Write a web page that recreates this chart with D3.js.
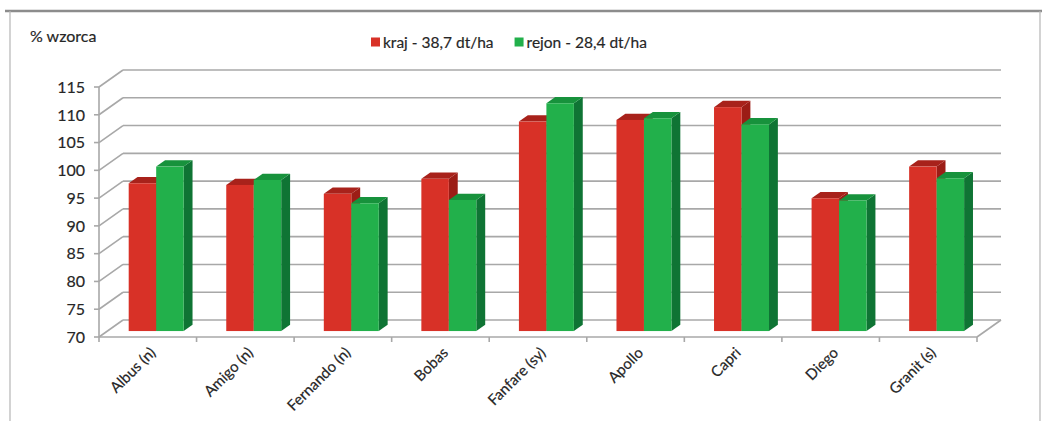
<!DOCTYPE html>
<html>
<head>
<meta charset="utf-8">
<script src="https://cdn.jsdelivr.net/npm/d3@7"></script>
<style>
  body { margin: 0; background: #fff; }
  text { font-family: Lato, "Open Sans", sans-serif; fill: #262626; stroke: #262626; stroke-width: 0.18px; }
</style>
</head>
<body>
<div id="chart"></div>
<script>
// data
const categories = ["Albus (n)", "Amigo (n)", "Fernando (n)", "Bobas", "Fanfare (sy)", "Apollo", "Capri", "Diego", "Granit (s)"];
const kraj  = [96.6, 96.3, 94.7, 97.4, 107.7, 108.0, 110.3, 93.9, 99.6];
const rejon = [99.6, 97.2, 93.0, 93.6, 111.0, 108.3, 107.2, 93.5, 97.5];
const seriesNames = ["kraj - 38,7 dt/ha", "rejon - 28,4 dt/ha"];
const yTicks = [70, 75, 80, 85, 90, 95, 100, 105, 110, 115];

const W = 1050, H = 421;
const plotLeft = 99, plotRight = 977, plotBottom = 337, plotTop = 87;
const depthX = 24, depthY = -17;       // full depth of the 3d box
const fFront = 0.35, fBack = 0.72;     // depth planes of the bars

const colors = {
  kraj:  {front: "#d83127", top: "#a8221b", side: "#9c1d16"},
  rejon: {front: "#22b04b", top: "#17923c", side: "#0f7434"}
};

const svg = d3.select("#chart").append("svg")
  .attr("width", W).attr("height", H);

// outer frame
svg.append("line").attr("x1", 5).attr("x2", 1042).attr("y1", 11).attr("y2", 11)
  .attr("stroke", "#8c8c8c").attr("stroke-width", 2.5);
svg.append("line").attr("x1", 10).attr("x2", 10).attr("y1", 11).attr("y2", H)
  .attr("stroke", "#b5b5b5").attr("stroke-width", 1.2);
svg.append("line").attr("x1", 1040).attr("x2", 1040).attr("y1", 11).attr("y2", H)
  .attr("stroke", "#b5b5b5").attr("stroke-width", 1.2);

let yScale = d3.scaleLinear().domain([70, 115]).range([plotBottom, plotTop]);
let xScale = d3.scaleBand().domain(categories).range([plotLeft, plotRight]);
let xSub = d3.scaleBand().domain(["kraj", "rejon"]).range([0, xScale.bandwidth()]).paddingOuter(0.775);

const grid = svg.append("g").attr("stroke", "#a8a8a8").attr("stroke-width", 1.6).attr("fill", "none");

// back wall gridlines and left wall diagonals
yTicks.forEach(function(t) {
  let y = yScale(t);
  grid.append("line")
    .attr("x1", plotLeft + depthX).attr("x2", plotRight + depthX)
    .attr("y1", y + depthY).attr("y2", y + depthY);
  grid.append("line")
    .attr("x1", plotLeft).attr("x2", plotLeft + depthX)
    .attr("y1", y).attr("y2", y + depthY);
});
// floor
grid.append("line").attr("x1", plotLeft).attr("x2", plotRight).attr("y1", plotBottom).attr("y2", plotBottom);
grid.append("line").attr("x1", plotRight).attr("x2", plotRight + depthX).attr("y1", plotBottom).attr("y2", plotBottom + depthY);
// front value axis
grid.append("line").attr("x1", plotLeft).attr("x2", plotLeft).attr("y1", plotTop).attr("y2", plotBottom);
yTicks.forEach(function(t) {
  grid.append("line").attr("x1", plotLeft - 5).attr("x2", plotLeft).attr("y1", yScale(t)).attr("y2", yScale(t));
});
// category ticks
categories.forEach(function(c) {
  let x = xScale(c);
  grid.append("line").attr("x1", x).attr("x2", x).attr("y1", plotBottom).attr("y2", plotBottom + 5);
});
grid.append("line").attr("x1", plotRight).attr("x2", plotRight).attr("y1", plotBottom).attr("y2", plotBottom + 5);

// y labels
svg.append("g").selectAll("text").data(yTicks).join("text")
  .attr("x", 85).attr("y", d => yScale(d)).attr("dy", "0.36em")
  .attr("text-anchor", "end").style("font-size", "16px")
  .text(d => d);

// bars
const bars = svg.append("g");
const fx = depthX * fFront, fy = depthY * fFront;
const bx = depthX * fBack, by = depthY * fBack;
categories.forEach(function(c, i) {
  [["kraj", kraj[i]], ["rejon", rejon[i]]].forEach(function(s) {
    let key = s[0], v = s[1];
    let x0 = xScale(c) + xSub(key) + fx;
    let x1 = x0 + xSub.bandwidth();
    let y0 = yScale(70) + fy;
    let y1 = yScale(v) + fy;
    let dx = bx - fx, dy = by - fy;
    let col = colors[key];
    bars.append("polygon")
      .attr("points", [[x1, y1], [x1 + dx, y1 + dy], [x1 + dx, y0 + dy], [x1, y0]].join(" "))
      .attr("fill", col.side);
    bars.append("polygon")
      .attr("points", [[x0, y1], [x0 + dx, y1 + dy], [x1 + dx, y1 + dy], [x1, y1]].join(" "))
      .attr("fill", col.top);
    bars.append("rect")
      .attr("x", x0).attr("y", y1).attr("width", x1 - x0).attr("height", y0 - y1)
      .attr("fill", col.front);
  });
});

// category labels
svg.append("g").selectAll("text").data(categories).join("text")
  .attr("transform", d => "translate(" + (xScale(d) + xScale.bandwidth() / 2 + 5) + "," + (plotBottom + 13) + ") rotate(-45)")
  .attr("text-anchor", "end").attr("dy", "0.35em")
  .style("font-size", "15px")
  .text(d => d);

// axis title
svg.append("text").attr("x", 30).attr("y", 42).style("font-size", "16px").text("% wzorca");

// legend
const legend = svg.append("g").attr("transform", "translate(371,42)");
let lx = 0;
["kraj", "rejon"].forEach(function(k, i) {
  legend.append("rect").attr("x", lx).attr("y", -4.5).attr("width", 9).attr("height", 9).attr("fill", colors[k].front);
  let t = legend.append("text").attr("x", lx + 12).attr("y", 0).attr("dy", "0.36em")
    .style("font-size", "15.5px").text(seriesNames[i]);
  lx += 12 + t.node().getComputedTextLength() + 21;
});
</script>
</body>
</html>
